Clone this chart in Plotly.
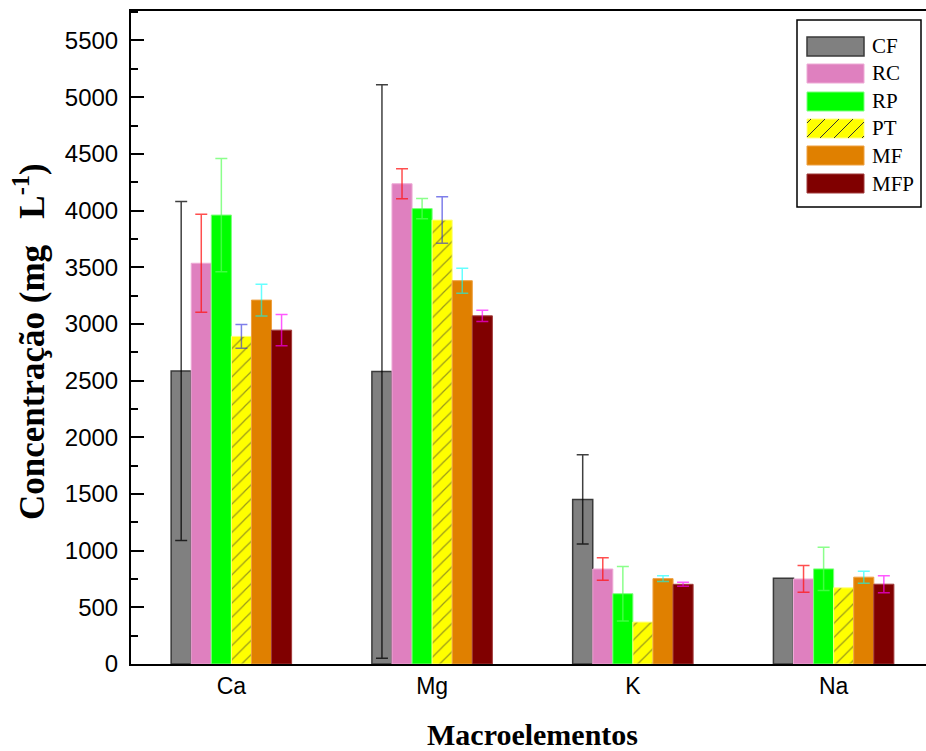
import plotly.graph_objects as go

# ---------------- data ----------------
categories = ["Ca", "Mg", "K", "Na"]
series_names = ["CF", "RC", "RP", "PT", "MF", "MFP"]

cf = [2585, 2580, 1452, 757]
rc = [3535, 4236, 838, 750]
rp = [3960, 4017, 620, 839]
pt = [2890, 3916, 370, 672]
mf = [3210, 3381, 753, 766]
mfp = [2945, 3071, 703, 704]

# None = no error bar shown in the original
cf_err = [1495, 2530, 393, None]
rc_err = [432, 132, 100, 118]
rp_err = [500, 90, 240, 190]
pt_err = [105, 205, None, None]
mf_err = [140, 110, 25, 53]
mfp_err = [138, 50, 18, 75]

y_ticks = [0, 500, 1000, 1500, 2000, 2500, 3000, 3500, 4000, 4500, 5000, 5500]

values = [cf, rc, rp, pt, mf, mfp]
errors = [cf_err, rc_err, rp_err, pt_err, mf_err, mfp_err]

# ---------------- styles ----------------
bar_colors = ["#808080", "#df80bf", "#00ff00", "#ffff00", "#e08000", "#800000"]
line_colors = ["#3a3a3a", "#eeaad6", "#7dff7d", "#ffff80", "#eea040", "#a03a3a"]
line_widths = [1.5, 1, 1, 1, 1, 1]
err_colors = ["rgba(0,0,0,0.75)", "rgba(255,20,20,0.75)", "rgba(90,255,90,0.7)",
              "rgba(40,40,220,0.6)", "rgba(0,255,255,0.6)", "rgba(255,0,255,0.65)"]

W_FIG, H_FIG = 926, 751
L, R, T, B = 131, 926, 11, 664
PW, PH = R - L, B - T


def px(x):
    return (x - L) / PW


def py(y):
    return (B - y) / PH


fig = go.Figure()
for i, name in enumerate(series_names):
    marker = dict(color=bar_colors[i], line=dict(color=line_colors[i], width=line_widths[i]))
    if name == "PT":
        marker["pattern"] = dict(shape="/", fgcolor="#333333", size=10, solidity=0.12)
    # missing errors -> "NaN" so plotly.js skips drawing that error bar
    err_arr = [e if e is not None else "NaN" for e in errors[i]]
    fig.add_trace(go.Bar(
        x=categories, y=values[i], name=name, marker=marker,
        error_y=dict(type="data", array=err_arr, visible=True,
                     color=err_colors[i], thickness=1.5, width=6),
        showlegend=False,
    ))

shapes = []
annotations = []

# custom legend (wide swatches like the original)
shapes.append(dict(type="rect", xref="paper", yref="paper",
                   x0=px(797), x1=px(921), y0=py(207), y1=py(20),
                   line=dict(color="black", width=1.5), fillcolor="white", layer="above"))
sw_tops = [37, 64, 92, 119, 146, 174]
sw_h = 19
sx0, sx1 = 807, 864
for i, name in enumerate(series_names):
    t = sw_tops[i]
    shapes.append(dict(type="rect", xref="paper", yref="paper",
                       x0=px(sx0), x1=px(sx1), y0=py(t + sw_h), y1=py(t),
                       line=dict(color=line_colors[i], width=line_widths[i]),
                       fillcolor=bar_colors[i], layer="above"))
    if name == "PT":
        for x0 in range(sx0 - sw_h + 4, sx1, 14):
            t_lo = max(0, sx0 - x0)
            t_hi = min(sw_h, sx1 - x0)
            if t_hi - t_lo < 2:
                continue
            shapes.append(dict(type="line", xref="paper", yref="paper",
                               x0=px(x0 + t_lo), y0=py(t + sw_h - t_lo),
                               x1=px(x0 + t_hi), y1=py(t + sw_h - t_hi),
                               line=dict(color="#333333", width=1), layer="above"))
    annotations.append(dict(xref="paper", yref="paper", x=px(870), y=py(t + sw_h / 2),
                            xanchor="left", yanchor="middle", showarrow=False,
                            text=name, font=dict(family="Liberation Serif", size=21, color="black")))

# axis titles
annotations.append(dict(xref="x", yref="paper", x=1.5, y=py(734),
                        xanchor="center", yanchor="middle", showarrow=False,
                        text="<b>Macroelementos</b>",
                        font=dict(family="Liberation Serif", size=30, color="black")))
annotations.append(dict(xref="paper", yref="paper", x=px(29), y=py(342),
                        xanchor="center", yanchor="middle", showarrow=False, textangle=-90,
                        text="<b>Concentração (mg\u00a0\u00a0\u00a0L<sup>-1</sup>)</b>",
                        font=dict(family="Liberation Serif", size=35, color="black")))

fig.update_layout(
    width=W_FIG, height=H_FIG,
    margin=dict(l=L, r=W_FIG - R, t=T, b=H_FIG - B, pad=0),
    paper_bgcolor="white", plot_bgcolor="white",
    barmode="group", bargap=0.4, bargroupgap=0,
    shapes=shapes, annotations=annotations,
    showlegend=False,
)
fig.update_xaxes(
    type="category", range=[-0.5, 3.46],
    showline=True, linecolor="black", linewidth=2, mirror=True,
    ticks="", showgrid=False, zeroline=False,
    tickfont=dict(family="Liberation Sans", size=23, color="black"),
)
fig.update_yaxes(
    range=[0, 5760], tickvals=y_ticks, ticktext=[str(v) for v in y_ticks],
    showline=True, linecolor="black", linewidth=2, mirror=False,
    ticks="inside", ticklen=13, tickwidth=2, tickcolor="black",
    minor=dict(tickvals=[v + 250 for v in y_ticks], ticks="inside", ticklen=7, tickwidth=2, tickcolor="black"),
    showgrid=False, zeroline=False,
    tickfont=dict(family="Liberation Sans", size=24, color="black"),
    ticklabelstandoff=6,
)

fig.write_html("out.html")
